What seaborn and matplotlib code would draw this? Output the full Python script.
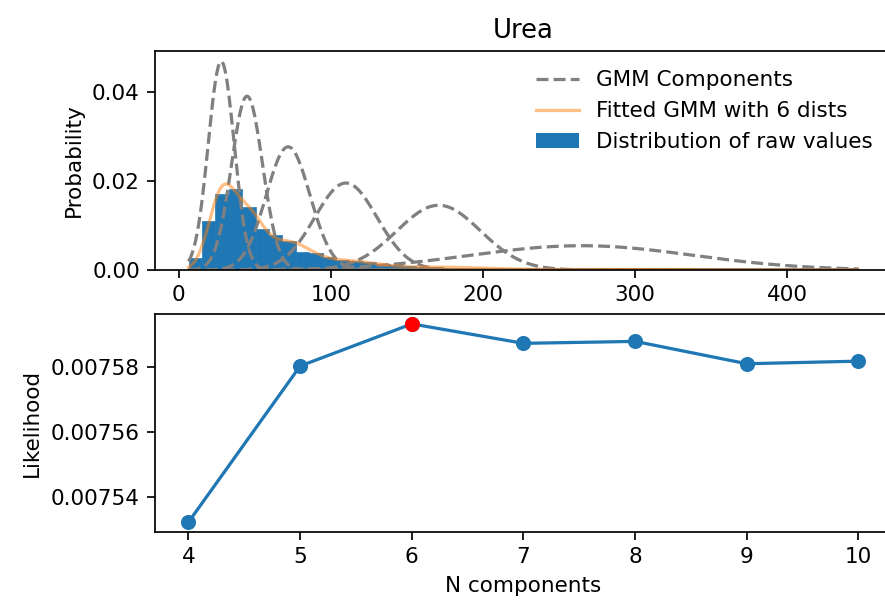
import numpy as np
import pandas as pd
import matplotlib
matplotlib.use("Agg")
import matplotlib.pyplot as plt
import seaborn as sns
from matplotlib.lines import Line2D
from matplotlib.patches import Patch
from matplotlib.ticker import MultipleLocator

# ---------------- data ----------------
title = "Urea"
# histogram of raw values (density), 50 equal bins over the data range
hist_min, hist_max = 6.5, 447.0
hist_heights = [
    0.0026, 0.0111, 0.0172, 0.0182, 0.0142, 0.0093, 0.0078, 0.0066, 0.0040, 0.0039,
    0.0030, 0.0023, 0.0021, 0.0017, 0.0013, 0.0012, 0.0009, 0.0007, 0.0006, 0.0005,
    0.0004, 0.0004, 0.0003, 0.0003, 0.00025, 0.0002, 0.0002, 0.00015, 0.00015, 0.00012,
    0.0001, 0.0001, 0.0001, 0.0001, 0.0001, 0.0001, 0.00008, 0.00008, 0.00008, 0.00006,
    0.00006, 0.00005, 0.00005, 0.00004, 0.00004, 0.00003, 0.00003, 0.00002, 0.00002, 0.00002,
]
# GMM components (means, std devs, weights)
comp_means = [28.0, 45.0, 72.0, 110.0, 171.0, 265.0]
comp_sds = [8.5, 10.2, 14.4, 20.4, 27.4, 73.0]
comp_weights = [0.334, 0.296, 0.21, 0.10, 0.04, 0.02]

# model selection
n_components = [4, 5, 6, 7, 8, 9, 10]
likelihood = [0.0075321, 0.0075803, 0.0075933, 0.0075873, 0.0075879, 0.0075810, 0.0075818]

# ---------------- figure ----------------
DPI = 155
fig = plt.figure(figsize=(885 / DPI, 601 / DPI), dpi=DPI)
ax1 = fig.add_axes([155 / 885, 1 - 270 / 601, (892 - 155) / 885, (270 - 51) / 601])
ax2 = fig.add_axes([155 / 885, 1 - 532 / 601, (892 - 155) / 885, (532 - 314) / 601])

n_bins = len(hist_heights)
bw = (hist_max - hist_min) / n_bins
centers = hist_min + bw * (np.arange(n_bins) + 0.5)
hist_df = pd.DataFrame({"value": centers, "w": hist_heights})
sns.histplot(data=hist_df, x="value", weights="w", bins=n_bins,
             binrange=(hist_min, hist_max), stat="count", color="C0",
             alpha=1.0, edgecolor="C0", linewidth=0.3, ax=ax1)

xs = np.linspace(hist_min, hist_max, 500)

def pdf(x, m, s):
    return np.exp(-0.5 * ((x - m) / s) ** 2) / (s * np.sqrt(2 * np.pi))

mix = np.zeros_like(xs)
for m, s, w in zip(comp_means, comp_sds, comp_weights):
    comp = pdf(xs, m, s)
    mix += w * comp
    sns.lineplot(x=xs, y=comp, color="grey", linestyle="--", ax=ax1)
sns.lineplot(x=xs, y=mix, color="C1", alpha=0.5, ax=ax1)

ax1.set_title(title)
ax1.set_ylabel("Probability")
ax1.set_xlabel("")
ax1.yaxis.set_major_locator(MultipleLocator(0.02))
handles = [
    Line2D([], [], color="grey", linestyle="--"),
    Line2D([], [], color="C1", alpha=0.5),
    Patch(facecolor="C0"),
]
ax1.legend(handles, ["GMM Components", "Fitted GMM with 6 dists",
                     "Distribution of raw values"], loc="upper right", frameon=False)

lk = pd.DataFrame({"n": n_components, "lik": likelihood})
sns.lineplot(data=lk, x="n", y="lik", marker="o", color="C0",
             markeredgecolor="C0", markeredgewidth=1.0, markersize=6, ax=ax2)
best = lk.loc[lk["lik"].idxmax()]
ax2.plot([best["n"]], [best["lik"]], "o", color="red")
ax2.set_xlabel("N components")
ax2.set_ylabel("Likelihood")

fig.savefig("out.png", dpi=DPI)
